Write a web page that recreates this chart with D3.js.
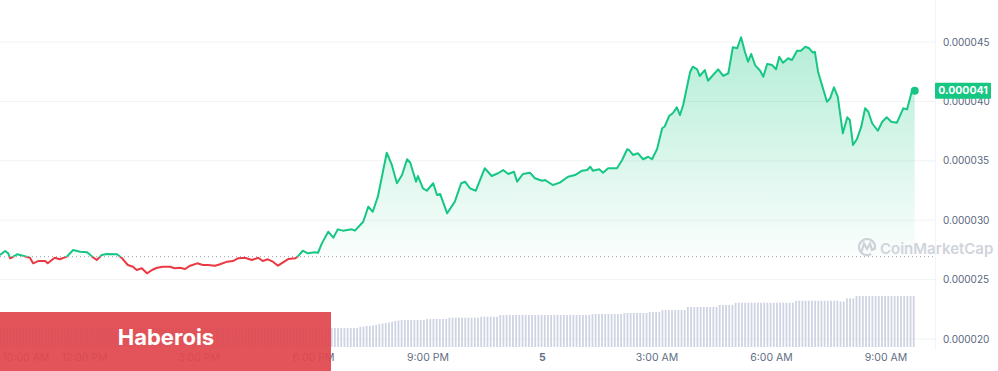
<!DOCTYPE html>
<html><head><meta charset="utf-8">
<script src="https://cdn.jsdelivr.net/npm/d3@7"></script>
<style>html,body{margin:0;padding:0;background:#fff;overflow:hidden}svg{display:block;font-family:Inter,"Noto Sans",sans-serif}</style>
</head><body><svg id="c" width="998" height="371"></svg>
<script>
// ---- data ----
const startUTC = Date.UTC(2023, 5, 4, 9, 48);          // first sample
const minutes = [0,8,13,16,27,36,47,52,60,71,75,86,94,105,115,126,137,145,152,160,168,184,192,201,209,215,223,231,239,247,256,267,275,283,291,299,310,319,327,338,346,357,366,374,385,396,406,413,421,429,437,445,453,464,468,476,484,495,500,506,516,524,531,539,553,558,571,579,586,594,608,616,624,632,640,645,654,657,665,671,681,687,692,703,715,725,731,739,748,762,773,783,791,799,808,813,822,833,841,852,857,869,880,893,904,915,923,928,932,942,948,956,970,978,986,989,995,1003,1011,1019,1025,1033,1041,1045,1052,1058,1064,1069,1074,1085,1089,1096,1100,1108,1113,1121,1129,1137,1145,1152,1159,1165,1171,1176,1181,1187,1195,1200,1206,1214,1220,1225,1231,1239,1245,1253,1259,1266,1272,1278,1281,1286,1300,1305,1311,1317,1325,1332,1336,1341,1347,1354,1360,1365,1371,1380,1387,1394,1401,1410,1420,1426,1434,1438];
// price in units of 1e-6
const pricesE6 = [27.07,27.41,27.21,26.79,27.13,27.01,26.84,26.37,26.56,26.56,26.37,26.84,26.71,26.93,27.49,27.35,27.30,26.93,26.65,27.07,27.15,27.13,26.79,26.23,26.08,25.81,25.95,25.53,25.81,26.00,26.08,26.08,25.95,26.00,25.89,26.17,26.37,26.23,26.23,26.17,26.29,26.51,26.56,26.79,26.84,26.65,26.84,26.56,26.71,26.51,26.17,26.45,26.73,26.79,26.94,27.43,27.21,27.30,27.26,28.05,29.03,28.53,29.23,29.12,29.23,29.12,29.87,31.14,30.71,31.98,35.68,34.65,33.11,33.80,35.13,34.84,33.24,33.72,32.68,32.48,33.11,32.12,32.20,30.58,31.56,33.11,33.24,32.68,32.48,34.37,33.72,33.95,34.22,33.89,34.08,33.24,33.89,34.00,33.53,33.32,33.38,32.96,33.16,33.66,33.80,34.17,34.22,34.50,34.17,34.28,34.00,34.37,34.37,35.07,35.97,35.91,35.49,35.63,35.13,35.34,35.13,35.99,37.74,37.89,38.77,39.02,39.50,38.85,39.70,42.50,42.92,42.70,42.14,42.64,41.74,42.22,42.70,42.14,42.37,44.55,44.47,45.40,44.18,43.34,43.99,43.06,42.58,42.08,43.15,43.06,42.70,43.76,43.26,43.63,43.48,44.27,44.27,44.60,44.47,44.10,44.18,42.50,39.97,40.26,41.19,40.40,37.31,38.66,38.43,36.33,36.81,37.87,39.42,39.13,38.16,37.53,38.29,38.66,38.29,38.21,39.42,39.33,40.96,40.90];
const openPriceE6 = 26.93;
const lastPriceLabel = "0.000041";
const yTicksE6 = [20, 25, 30, 35, 40, 45];
const xTickTimes = ["2023-06-04T10:00Z","2023-06-04T12:00Z","2023-06-04T15:00Z","2023-06-04T18:00Z","2023-06-04T21:00Z","2023-06-05T00:00Z","2023-06-05T03:00Z","2023-06-05T06:00Z","2023-06-05T09:00Z"];
// 5-minute volume bars (relative units)
const volumes = [
19,19,19,19,19,19,19,19, 19,19,19,19,19,19,19,19, 19,19,19,19,19,19,19,19, 19,19,19,19,19,19,19,19,
19,19,19,19,19,19,19,19, 19,19,19,19,19,19,19,19, 19,19,19,19,19,19,19,19, 19,19,19,19,19,19,19,19,
19,19,19,19,19,19,19,19, 19,19,19,19,19,19,19,19, 19,19,19,19,19,19,19,19, 19,19,19,19,19,19,19,19,
19,19,19,19,19,19,19,19,
19,19,19,19,19,19,19,19,19,
20,20.5,21,21,21.5,22,23,
23.5,24,24.5, 25.3,26,26.5,
27,27,27,27,27,27,27,27,
28,28,28,28,28,28,28,
29.3,29.3,29.3,29.3,29.3,29.3,29.3,29.3,29.3,29.3,
30.3,30.3,30.3,30.3,30.3,30.3,
32,32,32,32,32,32,32,32,32,32,32,32,32,32,32,32,32,32,32,32,32,32,32,32,32,32,32,32,32,
33,33,33,33,33,33,33,33,33,33,
34,34,34,34,34,34,34,34,
35,35,35,35,
37,37,37,37,37,37,37,37,
40,40,40,40,40,40,40,40,40,40,
42,42,42,42,42,
44.3,44.3,44.3,44.3,44.3,44.3,44.3,44.3,44.3,44.3,44.3,44.3,44.3,44.3,44.3,44.3,44.3,44.3,44.3,
46.3,46.3,46.3,46.3,46.3,46.3,46.3,46.3,46.3,46.3,46.3,46.3,46.3,46.3,
45.5,45.5,
48.7,48.7,48.7,
51,51,51,51,51,51,51,51,51,51,51,51,51,51,51,51,51,51,51];

// ---- chart ----
const svg = d3.select("#c");
const W = 998, H = 371;
const green = "#16c784", red = "#ea3943";
const x = d3.scaleUtc().domain([new Date(startUTC), new Date(startUTC + 1440 * 60000)]).range([0, 916]);
const y = d3.scaleLinear().domain([20, 45]).range([339, 42]);
const vh = d3.scaleLinear().domain([0, 60]).range([0, 60]);
const volBottom = 347;
const data = minutes.map((m, i) => ({ t: new Date(startUTC + m * 60000), v: pricesE6[i] }));
const yb = y(openPriceE6);
const gridRight = 935;

const defs = svg.append("defs");
const grad = defs.append("linearGradient").attr("id", "g").attr("gradientUnits", "userSpaceOnUse")
  .attr("x1", 0).attr("x2", 0).attr("y1", 40).attr("y2", yb);
grad.append("stop").attr("offset", 0).attr("stop-color", green).attr("stop-opacity", 0.32);
grad.append("stop").attr("offset", 1).attr("stop-color", green).attr("stop-opacity", 0.02);
defs.append("clipPath").attr("id", "above").append("rect").attr("x", 0).attr("y", 0).attr("width", W).attr("height", yb);
defs.append("clipPath").attr("id", "below").append("rect").attr("x", 0).attr("y", yb).attr("width", W).attr("height", H - yb);

// grid
svg.append("g").selectAll("line").data(yTicksE6).join("line")
  .attr("x1", 0).attr("x2", gridRight).attr("y1", d => y(d)).attr("y2", d => y(d))
  .attr("stroke", "#f1f2f4").attr("stroke-width", 1);
svg.append("line").attr("x1", gridRight + 0.5).attr("x2", gridRight + 0.5).attr("y1", 0).attr("y2", 350)
  .attr("stroke", "#f3f4f6");

// volume bars
svg.append("g").selectAll("rect").data(volumes).join("rect")
  .attr("x", (d, i) => x(new Date(startUTC + i * 5 * 60000)))
  .attr("width", 1.8)
  .attr("y", d => volBottom - vh(d))
  .attr("height", d => vh(d))
  .attr("fill", "#cfd4e2");

// area
const area = d3.area().x(d => x(d.t)).y0(yb).y1(d => y(d.v));
svg.append("path").datum(data).attr("d", area).attr("fill", "url(#g)").attr("clip-path", "url(#above)");

// baseline
svg.append("line").attr("x1", 0).attr("x2", gridRight).attr("y1", yb).attr("y2", yb)
  .attr("stroke", "#9aa2b1").attr("stroke-width", 1).attr("stroke-dasharray", "1,3");

// line
const line = d3.line().x(d => x(d.t)).y(d => y(d.v));
svg.append("path").datum(data).attr("d", line).attr("fill", "none").attr("stroke", green)
  .attr("stroke-width", 2).attr("stroke-linejoin", "round").attr("clip-path", "url(#above)");
svg.append("path").datum(data).attr("d", line).attr("fill", "none").attr("stroke", red)
  .attr("stroke-width", 2).attr("stroke-linejoin", "round").attr("clip-path", "url(#below)");
const last = data[data.length - 1];
svg.append("circle").attr("cx", x(last.t)).attr("cy", y(last.v)).attr("r", 4).attr("fill", green);

// y labels
svg.append("g").selectAll("text").data(yTicksE6).join("text")
  .attr("x", 943).attr("y", d => y(d)).attr("dy", "0.35em")
  .attr("font-size", 10).attr("fill", "#58667e")
  .text(d => (d * 1e-6).toFixed(6));

// last price badge
const by = y(last.v);
svg.append("rect").attr("x", 935).attr("y", by - 8).attr("width", 56).attr("height", 16).attr("fill", green).attr("rx", 1);
svg.append("text").attr("x", 963).attr("y", by).attr("dy", "0.35em").attr("text-anchor", "middle")
  .attr("font-size", 10.5).attr("font-weight", 700).attr("fill", "#fff").text(lastPriceLabel);

// x axis
const ticks = xTickTimes.map(s => new Date(s));
const fmt = d => d.getUTCHours() === 0 ? d3.utcFormat("%-d")(d) : d3.utcFormat("%-I:%M %p")(d);
const ax = svg.append("g").attr("transform", "translate(0,357)")
  .call(d3.axisBottom(x).tickValues(ticks).tickFormat(fmt).tickSize(0).tickPadding(0));
ax.select(".domain").remove();
ax.selectAll("text").attr("y", 0).attr("dy", "0.35em").attr("font-size", 10.5)
  .attr("font-family", "Inter, 'Noto Sans', sans-serif").attr("fill", "#616e85")
  .attr("font-weight", d => d.getUTCHours() === 0 ? 700 : 400);
ax.selectAll(".tick").filter((d, i) => i === 0).select("text")
  .attr("text-anchor", "start").attr("x", 2 - x(ticks[0]));

// watermark
const wm = svg.append("g").attr("fill", "none").attr("stroke", "#cdd1d8").attr("stroke-width", 2.2);
wm.append("path").attr("d", d3.arc()({ innerRadius: 8, outerRadius: 8, startAngle: 2.6, endAngle: 2 * Math.PI + 1.9 }))
  .attr("transform", "translate(867,247)");
wm.append("path").attr("d", "M861.5,251.5 L864,243.5 L867,249 L870,243.5 L872,250 L874.5,248.5");
svg.append("text").attr("x", 880).attr("y", 249).attr("dy", "0.35em").attr("font-size", 15).attr("font-weight", 600)
  .attr("fill", "#d0d4db").text("CoinMarketCap");

// banner
svg.append("rect").attr("x", 0).attr("y", 312).attr("width", 331).attr("height", H - 312)
  .attr("fill", "#e0474d").attr("fill-opacity", 0.93);
svg.append("text").attr("x", 166).attr("y", 337).attr("dy", "0.35em").attr("text-anchor", "middle")
  .attr("font-size", 22).attr("font-weight", 700).attr("fill", "#fff").text("Haberois");
</script></body></html>
